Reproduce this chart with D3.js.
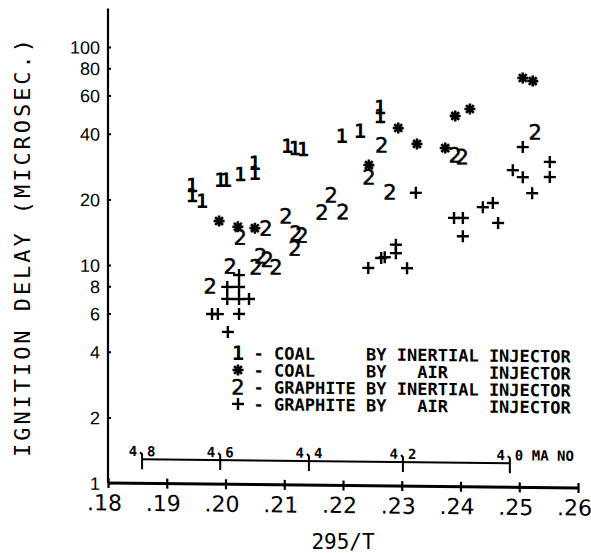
<!DOCTYPE html>
<html>
<head>
<meta charset="utf-8">
<script src="https://cdn.jsdelivr.net/npm/d3@7"></script>
<style>
  body { margin: 0; background: #fff; }
  svg text { fill: #000; }
</style>
</head>
<body>
<svg id="chart" width="591" height="553"></svg>
<script>
// Ignition delay versus 295/T for coal and graphite particles,
// injected by inertial and air injectors.

const xTicks = [0.18, 0.19, 0.20, 0.21, 0.22, 0.23, 0.24, 0.25, 0.26];
const xTickLabels = [".18", ".19", ".20", ".21", ".22", ".23", ".24", ".25", ".26"];
const yTicks = [1, 2, 4, 6, 8, 10, 20, 40, 60, 80, 100];
const yTickLabels = ["1", "2", "4", "6", "8", "10", "20", "40", "60", "80", "100"];

// 1 - coal by inertial injector
const coalInertialX = [0.1943, 0.1943, 0.1960, 0.1991, 0.2001, 0.2025, 0.2050, 0.2050,
                       0.2105, 0.2118, 0.2132, 0.2198, 0.2229, 0.2263, 0.2263];
const coalInertialY = [23.5, 21.1, 19.9, 24.9, 24.9, 26.5, 29.9, 26.9,
                       35.9, 35.1, 34.8, 40.1, 42.4, 54.7, 49.7];

// * - coal by air injector
const coalAirX = [0.1989, 0.2021, 0.2050, 0.2244, 0.2294, 0.2326, 0.2374, 0.2391, 0.2416, 0.2506, 0.2523];
const coalAirY = [16.1, 15.2, 15.0, 29.6, 43.9, 37.2, 35.7, 50.2, 54.1, 75.5, 73.2];

// 2 - graphite by inertial injector
const graphiteInertialX = [0.2025, 0.2069, 0.2103, 0.2120, 0.2130, 0.2118, 0.2008, 0.2052,
                           0.2060, 0.2071, 0.2086, 0.1974, 0.2164, 0.2180, 0.2200, 0.2266,
                           0.2244, 0.2280, 0.2391, 0.2403, 0.2527];
const graphiteInertialY = [13.6, 15.0, 17.1, 14.3, 14.0, 12.2, 10.0, 9.96,
                           11.2, 10.8, 9.98, 8.1, 17.9, 21.5, 18.0, 36.6,
                           26.1, 22.3, 33.2, 32.6, 42.8];

// + - graphite by air injector
const graphiteAirX = [0.2023, 0.2003, 0.2023, 0.2003, 0.2023, 0.2040, 0.1977, 0.1987, 0.2023, 0.2004,
                      0.2243, 0.2265, 0.2271, 0.2290, 0.2290, 0.2309, 0.2324, 0.2389, 0.2404, 0.2404,
                      0.2438, 0.2455, 0.2464, 0.2489, 0.2506, 0.2506, 0.2522, 0.2552, 0.2552];
const graphiteAirY = [9.13, 8.04, 8.05, 7.08, 7.08, 7.10, 6.03, 6.03, 6.05, 5.0,
                      9.98, 11.1, 11.2, 12.8, 11.7, 10.0, 22.2, 17.1, 17.1, 14.1,
                      19.2, 20.1, 16.3, 28.5, 26.5, 36.4, 22.4, 31.2, 26.6];

// Mach number scale drawn along the bottom of the plot
const machNumbers = ["4.8", "4.6", "4.4", "4.2", "4.0"];
const machX = [0.1858, 0.1991, 0.2142, 0.2302, 0.2484];
const machLineLevel = 1.29;

const legendSymbols = ["1", "*", "2", "+"];
const legendTexts = [
  "- COAL     BY INERTIAL INJECTOR",
  "- COAL     BY   AIR    INJECTOR",
  "- GRAPHITE BY INERTIAL INJECTOR",
  "- GRAPHITE BY   AIR    INJECTOR"
];

const series = [
  { symbol: "1", xs: coalInertialX, ys: coalInertialY },
  { symbol: "*", xs: coalAirX, ys: coalAirY },
  { symbol: "2", xs: graphiteInertialX, ys: graphiteInertialY },
  { symbol: "+", xs: graphiteAirX, ys: graphiteAirY }
];

const svg = d3.select("#chart");
const x = d3.scaleLinear().domain([0.18, 0.26]).range([108, 578]);
const y = d3.scaleLog().domain([1, 100]).range([483, 47]);
const yTop = 150;

const ox = x(0.18), oy = y(1);
// the plotted sheet sits with a slight tilt
const plot = svg.append("g")
  .attr("transform", `translate(${ox},${oy}) skewY(0.61) translate(${-ox},${-oy})`);

// axis lines
plot.append("line").attr("x1", ox).attr("x2", ox).attr("y1", oy).attr("y2", y(yTop))
  .attr("stroke", "#000").attr("stroke-width", 2.2);
plot.append("line").attr("x1", ox).attr("x2", x(0.26)).attr("y1", oy).attr("y2", oy)
  .attr("stroke", "#000").attr("stroke-width", 3);

// x axis
const xAxis = plot.append("g").attr("transform", `translate(0,${oy})`)
  .call(d3.axisBottom(x).tickValues(xTicks).tickFormat((d, i) => xTickLabels[i])
        .tickSizeInner(5).tickSizeOuter(0).tickPadding(6));
xAxis.select(".domain").remove();
xAxis.selectAll(".tick line").attr("y1", -5).attr("stroke-width", 2.2);
xAxis.selectAll(".tick text")
  .attr("font-family", "DejaVu Sans").attr("font-size", 22)
  .attr("dx", -4).attr("dy", "0.75em");
xAxis.attr("font-family", null).attr("font-size", null);

// y axis
const yAxis = plot.append("g").attr("transform", `translate(${ox},0)`)
  .call(d3.axisLeft(y).tickValues(yTicks).tickFormat((d, i) => yTickLabels[i])
        .tickSizeInner(5).tickSizeOuter(0).tickPadding(3));
yAxis.select(".domain").remove();
yAxis.selectAll(".tick line").attr("x2", 3).attr("stroke-width", 2);
yAxis.selectAll(".tick text")
  .attr("font-family", "Liberation Sans").attr("font-size", 18).attr("dy", "0.36em");
yAxis.attr("font-family", null).attr("font-size", null);

// marker drawing
function drawMarker(g, symbol, cx, cy) {
  if (symbol === "+") {
    g.append("path")
      .attr("d", `M${cx - 6},${cy}H${cx + 6}M${cx},${cy - 6}V${cy + 6}`)
      .attr("stroke", "#000").attr("stroke-width", 2.4).attr("fill", "none");
  } else if (symbol === "*") {
    const r = 5.5, k = r * Math.SQRT1_2;
    g.append("path")
      .attr("d", `M${cx - r},${cy}H${cx + r}M${cx},${cy - r}V${cy + r}` +
                 `M${cx - k},${cy - k}L${cx + k},${cy + k}M${cx - k},${cy + k}L${cx + k},${cy - k}`)
      .attr("stroke", "#000").attr("stroke-width", 2.6).attr("fill", "none");
    g.append("circle").attr("cx", cx).attr("cy", cy).attr("r", 3).attr("fill", "#000");
  } else if (symbol === "1") {
    g.append("text").attr("x", cx).attr("y", cy).attr("dy", "0.36em")
      .attr("text-anchor", "middle")
      .attr("font-family", "DejaVu Sans Mono").attr("font-weight", "bold").attr("font-size", 20)
      .text("1");
  } else {
    g.append("text").attr("x", cx).attr("y", cy).attr("dy", "0.36em")
      .attr("text-anchor", "middle")
      .attr("font-family", "DejaVu Sans").attr("font-size", 21)
      .attr("stroke", "#000").attr("stroke-width", 0.5)
      .text(symbol);
  }
}

const marks = plot.append("g");
series.forEach(s => {
  s.xs.forEach((xv, i) => drawMarker(marks, s.symbol, x(xv), y(s.ys[i])));
});

// Mach number scale
const machG = plot.append("g");
const my = y(machLineLevel);
machG.append("line").attr("x1", x(machX[0])).attr("x2", x(machX[machX.length - 1]))
  .attr("y1", my).attr("y2", my).attr("stroke", "#000").attr("stroke-width", 2);
machNumbers.forEach((m, i) => {
  const tx = x(machX[i]);
  const parts = m.split(".");
  machG.append("path")
    .attr("d", `M${tx - 2},${my - 7}L${tx},${my - 5}V${my + 10}`)
    .attr("stroke", "#000").attr("stroke-width", 2).attr("fill", "none");
  machG.append("text").attr("x", tx - 5).attr("y", my - 3).attr("text-anchor", "end")
    .attr("font-family", "DejaVu Sans Mono").attr("font-weight", "bold").attr("font-size", 14)
    .text(parts[0]);
  machG.append("text").attr("x", tx + 5).attr("y", my - 3).attr("text-anchor", "start")
    .attr("font-family", "DejaVu Sans Mono").attr("font-weight", "bold").attr("font-size", 14)
    .style("white-space", "pre")
    .text(i === machNumbers.length - 1 ? parts[1] + " MA NO" : parts[1]);
});

// legend
const legend = plot.append("g");
const legendRowY = [351.6, 368.6, 385.6, 402.6];
legendSymbols.forEach((sym, i) => {
  drawMarker(legend, sym, 238, legendRowY[i]);
  legend.append("text").attr("x", 253.5).attr("y", legendRowY[i]).attr("dy", "0.36em")
    .attr("font-family", "DejaVu Sans Mono").attr("font-weight", "bold").attr("font-size", 17)
    .style("white-space", "pre")
    .text(legendTexts[i]);
});

// axis titles
svg.append("text").attr("x", 343).attr("y", 549).attr("text-anchor", "middle")
  .attr("font-family", "DejaVu Sans Mono").attr("font-size", 21)
  .text("295/T");
svg.append("text").attr("transform", "translate(30,248) rotate(-90)")
  .attr("text-anchor", "middle")
  .attr("font-family", "DejaVu Sans Mono").attr("font-size", 22)
  .attr("textLength", 418).attr("lengthAdjust", "spacing")
  .text("IGNITION DELAY (MICROSEC.)");
</script>
</body>
</html>
